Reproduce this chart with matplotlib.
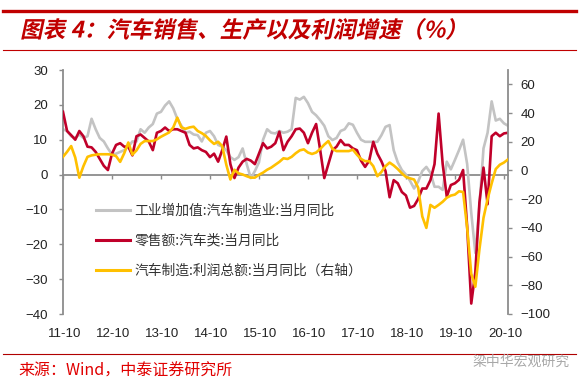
import matplotlib
matplotlib.use('Agg')
import matplotlib.pyplot as plt
from matplotlib.lines import Line2D
from matplotlib.patheffects import AbstractPathEffect
from matplotlib.transforms import Affine2D
import numpy as np

plt.rcParams['font.family'] = ['Liberation Sans', 'Noto Sans CJK SC']

# ---------------- data ----------------
tick_labels = ['11-10', '12-10', '13-10', '14-10', '15-10',
               '16-10', '17-10', '18-10', '19-10', '20-10']

# 工业增加值:汽车制造业:当月同比 (left axis)
ind_va = [13, 12.5, 11, 10.5, 11.5, 10.5, 11, 16, 13, 10.5,
          9.5, 7.5, 5.8, 6, 6.5, 7, 8, 9.5, 9.5, 13,
          12, 13.5, 14.5, 17.5, 18, 19.8, 21, 19, 16, 14,
          12, 12.3, 11.5, 11.3, 9.5, 12, 12.5, 11, 8.5, 8,
          7, 5, 4.2, 5, 7.5, 3, -1, 1, 3.5, 10,
          13, 12, 11.8, 12.5, 12, 12.3, 13, 22, 21.5, 22.3,
          20.5, 18, 17, 15.6, 14, 11, 9.9, 10.5, 12.5, 13,
          14.7, 14.3, 12, 10, 9.4, 9.4, 9.4, 9.4, 11.3, 13.7,
          14.2, 7, 3.5, 1.3, 0, -1.8, -4, -2, 1, 2.2,
          0.5, -3.5, -3.5, -4.4, 3.7, 1.5, 4.2, 7, 10, 3,
          -11, -22.5, -9, 7.5, 12, 21, 15.5, 16, 14.7, 14]

# 零售额:汽车类:当月同比 (left axis)
retail = [18, 12.5, 11.3, 10, 12.5, 11, 8, 7.8, 6.5, 4.5,
          2.5, 1.3, 6, 8.5, 9, 8, 8, 5.5, 11, 11.5,
          10.5, 9.5, 7, 12, 12.5, 13.5, 12.5, 13, 13, 12.5,
          12, 8.5, 7.5, 7.8, 7, 6.5, 5, 6, 3.7, 7,
          10.9, 3, -1, 2, 3.7, 4.5, 4, 3, 6, 9,
          7.5, 8, 9, 12.3, 7, 9.4, 11, 13, 13.2, 12,
          9, 12, 14.5, 7, -1, 3, 7, 8, 9.9, 8.5,
          8.5, 7.5, 7, 4, 2.2, 4, 9.4, 6, 3.8, 1,
          -6.5, -1.6, -2.5, -5, -6, -9.5, -9, -7, -4, -4,
          -1.6, 3, 17.5, 3, -6.3, -3, -2.5, -1.5, 1.3, -15,
          -37, -28, -8, 2, -8.5, 11, 12, 11, 11.8, 12]

# 汽车制造:利润总额:当月同比 (right axis)
profit = [9.5, 13, 17, 9, -5, 3, 9.5, 10.5, 11, 11.3,
          11.3, 11.3, 11, 10, 6, 12, 19.5, 11, 14, 18.5,
          20.5, 20.5, 20.5, 21.7, 23.5, 25, 26.5, 30, 36.8, 30,
          29, 30, 30.5, 27.5, 26, 24, 21, 18.5, 20, 17,
          4, -6.3, 0.5, -2, -2.8, -4, -5, -5, -3, -1.5,
          0.5, 2, 4, 6, 8.5, 8, 9.5, 12, 14, 14.7,
          12.5, 11.5, 12.5, 15, 18, 20.5, 15, 13.5, 13.5, 13.5,
          13.5, 14.5, 11, 8, 6.5, 6.5, 3, -4, -1, 3,
          5.5, 3.5, 1, -2, -4.5, -5.5, -6.3, -12, -32, -40,
          -24, -26, -24, -21.8, -19, -17.5, -16.8, -14.5, -15, -40,
          -72, -81, -55, -33, -20, -9, 1, 4, 5.5, 7.7]

labels = ['工业增加值:汽车制造业:当月同比',
          '零售额:汽车类:当月同比',
          '汽车制造:利润总额:当月同比（右轴）']

months = np.arange(len(ind_va))

# ---------------- figure ----------------
W, H = 579, 385
fig = plt.figure(figsize=(W / 100, H / 100), dpi=100)
fig.patch.set_facecolor('white')

ax = fig.add_axes([63 / W, 1 - 314 / H, 445 / W, 244 / H])
ax2 = ax.twinx()

c_gray = '#C3C3C3'
c_red = '#C0002A'
c_yel = '#FFC000'
lw = 1.9

l1, = ax.plot(months, ind_va, color=c_gray, lw=lw, solid_joinstyle='round', zorder=2)
l2, = ax.plot(months, retail, color=c_red, lw=lw, solid_joinstyle='round', zorder=3)
l3, = ax2.plot(months, profit, color=c_yel, lw=lw, solid_joinstyle='round', zorder=3)

ax.set_xlim(0, 109)
ax.set_ylim(-40, 30)
ax2.set_ylim(-100, 70)
ax.set_yticks(np.arange(-40, 31, 10))
ax2.set_yticks(np.arange(-100, 61, 20))

spine_c = '#8C8C8C'
for a in (ax, ax2):
    for s in ('top', 'bottom'):
        a.spines[s].set_visible(False)
ax.spines['right'].set_visible(False)
ax2.spines['left'].set_visible(False)
ax.spines['left'].set_color(spine_c)
ax.spines['left'].set_linewidth(1.3)
ax2.spines['right'].set_color(spine_c)
ax2.spines['right'].set_linewidth(1.3)

ax.tick_params(axis='y', length=3, width=1, color=spine_c, pad=8,
               labelsize=9.5, labelcolor='#222222')
ax2.tick_params(axis='y', length=3, width=1, color=spine_c, pad=6,
                labelsize=9.5, labelcolor='#222222')

# x labels at bottom
ax.set_xticks(np.arange(0, 109, 12) + 0.3)
ax.set_xticklabels(tick_labels)
ax.tick_params(axis='x', length=0, pad=10, labelsize=9.5, labelcolor='#222222')

# zero line with ticks
sec = ax.secondary_xaxis(40 / 70)
sec.set_alignment('bottom')
sec.spines['bottom'].set_color(spine_c)
sec.spines['bottom'].set_linewidth(1.3)
sec.set_xticks(np.arange(0, 109, 12))
sec.tick_params(axis='x', length=3, width=1, color=spine_c, direction='out',
                labelbottom=False, labeltop=False)

# legend
leg = fig.legend([l1, l2, l3], labels, loc='upper left',
                 bbox_to_anchor=(96 / W, 1 - 204 / H), frameon=False,
                 borderpad=0, borderaxespad=0, handlelength=2.5,
                 handletextpad=0.3, labelspacing=1.15,
                 prop={'family': ['Noto Sans CJK SC'], 'size': 9.9})
for t in leg.get_texts():
    t.set_color('#333333')
for h in leg.get_lines():
    h.set_linewidth(2.2)


# ---------------- header / footer ----------------
class Skew(AbstractPathEffect):
    def __init__(self, deg=12):
        super().__init__()
        self.t = Affine2D().skew_deg(deg, 0)

    def draw_path(self, renderer, gc, tpath, affine, rgbFace=None):
        renderer.draw_path(gc, tpath, self.t + affine, rgbFace)


title_c = '#C00000'
fig.add_artist(Line2D([3 / W, 576 / W], [1 - 11 / H, 1 - 11 / H],
                      color=title_c, lw=2.4, transform=fig.transFigure))
fig.add_artist(Line2D([3 / W, 576 / W], [1 - 50 / H, 1 - 50 / H],
                      color=title_c, lw=0.8, transform=fig.transFigure))
fig.text(20 / W, 1 - 31 / H, '图表 4：汽车销售、生产以及利润增速（%）',
         color=title_c, fontsize=16.3, fontweight='bold',
         family=['Noto Sans CJK SC'], va='center', ha='left',
         path_effects=[Skew(12)])

fig.add_artist(Line2D([3 / W, 576 / W], [1 - 354 / H, 1 - 354 / H],
                      color='#B00000', lw=0.8, transform=fig.transFigure))
fig.text(18 / W, 1 - 371 / H, '来源：Wind，中泰证券研究所',
         color='#E00000', fontsize=11.5, family=['Noto Sans CJK SC'],
         va='center', ha='left')
fig.text(570 / W, 1 - 362 / H, '梁中华宏观研究',
         color='#A8A8A8', fontsize=10, family=['Noto Sans CJK SC'],
         va='center', ha='right')

fig.savefig('out.png', dpi=100, facecolor='white')
